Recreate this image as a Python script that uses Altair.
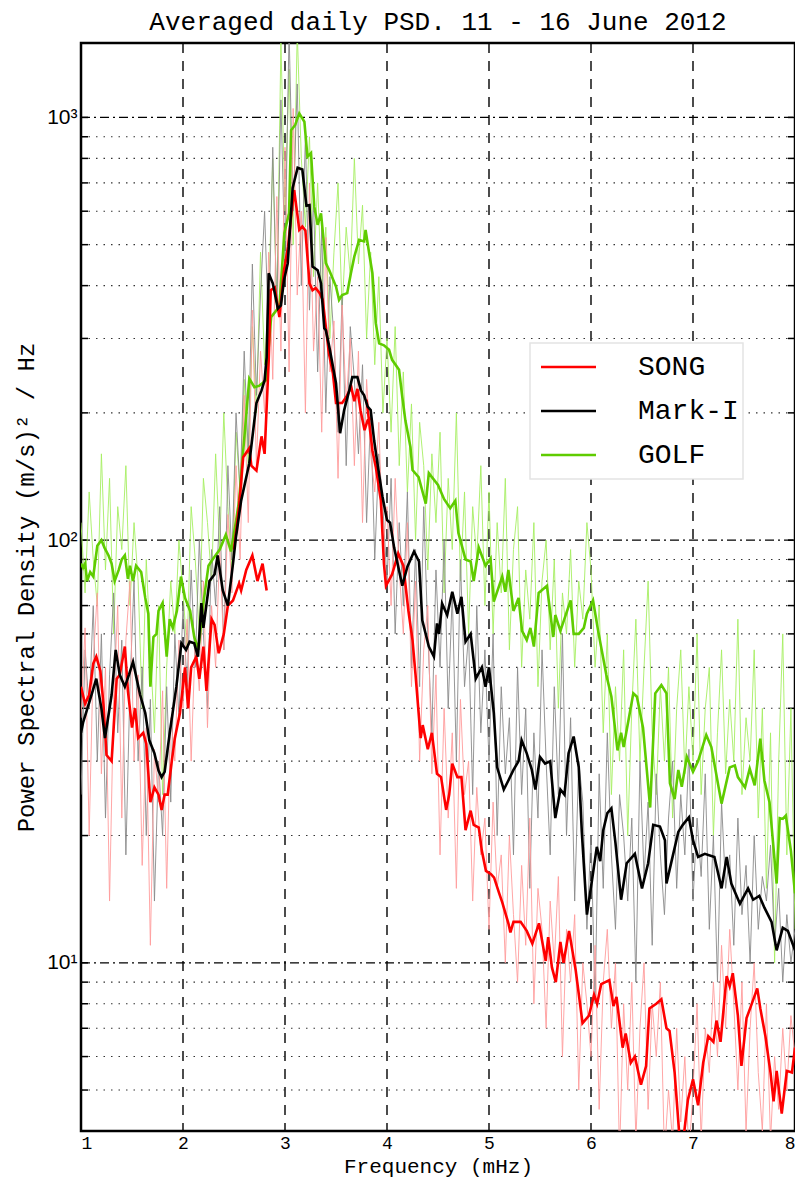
import altair as alt
import pandas as pd

TITLE = "Averaged daily PSD. 11 - 16 June 2012"
X_TITLE = "Frequency (mHz)"
Y_TITLE = "Power Spectral Density  (m/s)\u00b2 / Hz"
SERIES = ["SONG", "Mark-I", "GOLF"]
SMOOTH_COLORS = ["#ff0000", "#000000", "#5fcc00"]
RAW_COLORS = ["#ff9c9c", "#8a8a8a", "#a6ee62"]

X_TICKS = [1, 2, 3, 4, 5, 6, 7, 8]
X_GRID = [2, 3, 4, 5, 6, 7]
Y_MAJOR = [10, 100, 1000]
Y_MINOR = [5, 6, 7, 8, 9, 20, 30, 40, 50, 60, 70, 80, 90,
           200, 300, 400, 500, 600, 700, 800, 900]

# raw spectra, 0.04 mHz spacing from 1.00 to 8.00 mHz
RAW_STEP = 0.04
song_raw = (
    [38, 62, 20, 52, 75, 28, 50, 14, 42, 70, 22, 58, 80, 30, 48, 17, 36, 11, 32, 24, 44, 15, 38, 30, 58]
    + [40, 65, 30, 58, 44, 80, 36, 70, 50, 95, 55, 115, 75, 150, 90, 220, 110, 350, 150, 280, 200, 480, 240, 650, 280]
    + [850, 250, 1050, 380, 600, 200, 700, 280, 420, 180, 520, 250, 330, 140, 360, 210, 300, 150, 280, 110, 240, 160, 130, 190, 95]
    + [120, 70, 140, 85, 60, 110, 45, 80, 30, 55, 70, 28, 48, 18, 40, 22, 35, 15, 42, 25, 30, 14, 26, 18, 22]
    + [12, 24, 15, 18, 10, 20, 13, 9, 17, 11, 22, 8, 15, 12, 7, 14, 10, 16, 6, 12, 9, 13, 5, 10, 8]
    + [6, 11, 4.5, 9, 12, 7, 10, 3.5, 8, 5, 9, 3.8, 7, 10, 4.5, 8, 6, 9, 3.5, 5, 3.8, 7, 4.2, 6, 3.5]
    + [5, 8, 3.8, 7, 5.5, 9, 6, 11, 7, 12, 8, 5, 9, 4, 7, 10, 5.5, 4, 8, 3.8, 6, 4.5, 7, 5, 7.5, 6]
)
marki_raw = (
    [25, 55, 40, 70, 30, 60, 22, 48, 75, 35, 58, 18, 45, 80, 30, 50, 20, 42, 14, 30, 20, 45, 24, 60, 38]
    + [70, 45, 85, 50, 100, 60, 40, 95, 70, 120, 55, 150, 90, 200, 130, 280, 160, 450, 220, 380, 600, 300, 850, 350, 1100]
    + [450, 1600, 600, 1200, 400, 900, 350, 650, 250, 550, 200, 420, 300, 180, 380, 150, 320, 240, 160, 260, 110, 200, 90, 160, 120]
    + [80, 140, 60, 110, 70, 130, 50, 95, 45, 120, 60, 35, 85, 50, 100, 40, 75, 30, 90, 45, 60, 25, 70, 35, 55]
    + [30, 60, 20, 45, 28, 38, 18, 50, 25, 40, 15, 35, 22, 55, 30, 18, 45, 25, 60, 20, 38, 14, 30, 24, 12]
    + [20, 8, 28, 15, 35, 18, 12, 25, 20, 14, 22, 9, 30, 16, 24, 11, 28, 18, 13, 22, 30, 15, 25, 18, 32]
    + [14, 22, 16, 28, 12, 20, 9, 24, 15, 18, 11, 22, 13, 17, 10, 20, 12, 16, 14, 19, 11, 15, 9, 13, 10, 12]
)
golf_raw = (
    [110, 75, 130, 90, 70, 160, 85, 140, 60, 120, 95, 150, 70, 110, 80, 40, 90, 55, 35, 70, 25, 50, 80, 60, 100]
    + [75, 55, 120, 90, 60, 140, 110, 80, 160, 95, 200, 120, 85, 180, 130, 240, 150, 320, 200, 480, 260, 380, 800, 350, 1500]
    + [600, 1300, 500, 1600, 800, 550, 900, 420, 700, 380, 550, 300, 480, 700, 350, 550, 420, 800, 450, 620, 300, 480, 260, 420, 200]
    + [300, 180, 320, 150, 250, 130, 210, 100, 190, 150, 85, 160, 110, 180, 75, 140, 95, 200, 80, 130, 60, 120, 90, 150, 70]
    + [130, 60, 110, 75, 140, 55, 95, 120, 50, 85, 65, 110, 45, 80, 100, 55, 90, 40, 75, 60, 95, 50, 80, 65, 110]
    + [85, 50, 70, 35, 60, 25, 45, 30, 55, 20, 40, 65, 30, 50, 80, 35, 25, 45, 30, 50, 22, 40, 55, 28, 45]
    + [30, 60, 25, 40, 50, 20, 35, 55, 28, 42, 30, 65, 25, 38, 30, 55, 22, 40, 15, 35, 10, 30, 60, 18, 40, 12]
)

# smoothed spectra: (frequency mHz, PSD)
song_smooth_1 = [(1.00, 45), (1.04, 41), (1.08, 43), (1.12, 51), (1.15, 53), (1.19, 49), (1.22, 41),
                 (1.25, 31), (1.30, 30), (1.35, 47), (1.38, 48), (1.43, 56), (1.46, 44), (1.50, 36),
                 (1.53, 40), (1.56, 34), (1.61, 35), (1.64, 33), (1.68, 24), (1.72, 26), (1.76, 25),
                 (1.79, 23), (1.82, 25), (1.85, 25), (1.89, 30), (1.92, 34), (1.97, 39), (2.02, 50),
                 (2.05, 40), (2.08, 50), (2.13, 53), (2.16, 47), (2.20, 56), (2.23, 44), (2.28, 65),
                 (2.31, 63), (2.35, 54), (2.40, 60), (2.44, 70), (2.49, 72), (2.55, 79), (2.57, 76),
                 (2.62, 85), (2.68, 92), (2.73, 80), (2.78, 88), (2.82, 76)]
song_smooth_2 = [(2.50, 95), (2.55, 120), (2.59, 157), (2.65, 165), (2.67, 150), (2.72, 146), (2.77, 176),
                 (2.80, 160), (2.84, 265), (2.86, 390), (2.90, 396), (2.945, 337), (2.99, 435), (3.03, 494),
                 (3.06, 583), (3.09, 673), (3.12, 593), (3.14, 542), (3.17, 552), (3.20, 540), (3.24, 405),
                 (3.27, 390), (3.30, 395), (3.34, 384), (3.37, 370), (3.40, 320), (3.43, 277), (3.47, 248),
                 (3.50, 211), (3.56, 211), (3.60, 218), (3.65, 230), (3.68, 213), (3.71, 228), (3.74, 203),
                 (3.78, 182), (3.81, 192), (3.84, 194)]
song_smooth_3 = [(3.80, 215), (3.857, 163), (3.89, 149), (3.94, 124), (3.97, 88), (3.99, 78), (4.05, 83),
                 (4.11, 93), (4.16, 87), (4.21, 68), (4.25, 58), (4.28, 48), (4.31, 39), (4.33, 34),
                 (4.35, 36.5), (4.40, 32), (4.44, 35), (4.49, 28), (4.53, 27.5), (4.58, 23), (4.61, 25),
                 (4.64, 29.6), (4.69, 27.5), (4.73, 27.5), (4.77, 20.6), (4.82, 22.9), (4.85, 21.2),
                 (4.90, 20.9), (4.93, 18.4), (4.97, 16.5), (5.02, 16.2), (5.05, 15.9), (5.10, 14.6),
                 (5.13, 13.9), (5.19, 12.4), (5.21, 11.8), (5.24, 12.5), (5.31, 12.5), (5.37, 11.9),
                 (5.425, 11.1), (5.49, 12.4), (5.556, 10.1), (5.58, 11.5), (5.617, 9.75), (5.655, 9.0),
                 (5.70, 11.2), (5.73, 10), (5.785, 11.9), (5.85, 9.6), (5.917, 7.2), (5.98, 7.5),
                 (6.03, 8.4), (6.06, 8.0), (6.10, 8.9), (6.18, 9.1), (6.22, 7.9), (6.25, 8.3), (6.31, 6.3),
                 (6.34, 6.8), (6.39, 5.8), (6.43, 6.0), (6.49, 5.15), (6.54, 5.7), (6.573, 7.8), (6.64, 8.0),
                 (6.69, 8.2), (6.74, 7.0), (6.77, 6.9), (6.82, 5.5), (6.87, 3.8), (6.91, 3.9), (6.95, 4.74),
                 (7.00, 5.3), (7.05, 4.6), (7.10, 5.8), (7.15, 6.7), (7.20, 6.5), (7.23, 7.3), (7.27, 6.5),
                 (7.33, 9.3), (7.36, 8.8), (7.39, 9.45), (7.44, 7.5), (7.475, 5.7), (7.525, 7.4), (7.56, 7.8),
                 (7.63, 8.7), (7.66, 7.8), (7.71, 6.7), (7.76, 5.5), (7.79, 4.7), (7.82, 5.55), (7.87, 4.4),
                 (7.92, 5.55), (7.97, 5.5), (8.00, 6.3)]
marki_smooth = [(1.00, 35), (1.02, 37), (1.09, 42), (1.15, 47), (1.20, 40), (1.235, 34), (1.30, 43),
                (1.34, 55), (1.38, 48), (1.43, 45), (1.47, 48), (1.51, 51.5), (1.58, 43), (1.63, 39),
                (1.67, 33.6), (1.72, 31.3), (1.76, 28.5), (1.79, 27.5), (1.82, 28.3), (1.87, 35), (1.935, 45),
                (1.984, 57), (2.03, 55), (2.065, 57.5), (2.11, 57), (2.147, 53), (2.18, 71), (2.20, 62),
                (2.26, 80), (2.31, 83), (2.34, 92), (2.39, 76), (2.44, 70), (2.49, 88), (2.52, 102),
                (2.57, 124), (2.65, 152), (2.72, 211), (2.77, 226), (2.80, 239), (2.82, 271), (2.84, 428),
                (2.88, 405), (2.93, 353), (2.96, 359), (2.99, 412), (3.027, 452), (3.075, 681), (3.124, 760),
                (3.17, 753), (3.21, 618), (3.24, 620), (3.27, 444), (3.32, 435), (3.353, 405), (3.385, 317),
                (3.40, 314), (3.434, 287), (3.50, 235), (3.54, 179), (3.58, 203), (3.63, 226), (3.66, 243),
                (3.71, 243), (3.744, 226), (3.776, 220), (3.81, 207), (3.84, 203), (3.874, 172), (3.906, 152),
                (3.955, 127), (4.00, 111.5), (4.03, 110), (4.07, 96), (4.15, 78), (4.20, 86.5), (4.265, 94),
                (4.314, 89), (4.346, 64.6), (4.41, 56), (4.46, 53), (4.49, 63.5), (4.51, 60), (4.54, 70.8),
                (4.59, 66.5), (4.64, 75.5), (4.69, 67), (4.73, 73.4), (4.77, 57.5), (4.82, 60), (4.87, 47),
                (4.93, 50), (4.966, 45), (5.00, 50), (5.047, 39), (5.08, 29), (5.145, 25.7), (5.19, 27),
                (5.24, 28.6), (5.29, 30), (5.32, 33.6), (5.37, 31.3), (5.42, 28.6), (5.455, 25.7),
                (5.50, 30.7), (5.55, 29.6), (5.60, 30), (5.65, 22), (5.70, 25.7), (5.74, 25), (5.78, 31.3),
                (5.83, 34.3), (5.88, 29), (5.91, 20.4), (5.96, 13), (6.01, 15.7), (6.057, 18.8), (6.09, 17.4),
                (6.12, 20.6), (6.16, 22.6), (6.20, 23.2), (6.24, 19.2), (6.295, 14.1), (6.35, 17.2),
                (6.43, 18.1), (6.50, 15), (6.56, 17.2), (6.61, 21.2), (6.676, 21), (6.725, 19.5), (6.74, 15.4),
                (6.79, 17.4), (6.856, 20.4), (6.90, 21.2), (6.96, 22.1), (7.00, 19.5), (7.05, 17.8),
                (7.116, 18.1), (7.21, 17.8), (7.28, 15), (7.33, 17.8), (7.376, 15.4), (7.46, 13.8),
                (7.54, 15), (7.59, 14.1), (7.65, 14.4), (7.70, 13.5), (7.77, 12.5), (7.82, 10.7), (7.88, 12.1),
                (7.93, 11.9), (8.00, 10.7)]
golf_smooth = [(1.00, 88), (1.02, 86), (1.04, 88), (1.06, 80), (1.09, 84), (1.12, 82), (1.16, 97), (1.20, 100),
               (1.23, 96), (1.27, 92), (1.30, 88), (1.33, 80), (1.37, 85), (1.40, 90), (1.43, 92), (1.46, 81),
               (1.48, 87), (1.51, 80), (1.54, 87), (1.59, 84), (1.63, 73), (1.66, 67), (1.68, 45), (1.71, 59),
               (1.74, 60), (1.76, 68), (1.80, 71), (1.84, 53), (1.87, 65), (1.90, 62), (1.94, 68), (1.98, 82),
               (2.02, 73), (2.07, 68), (2.11, 59), (2.15, 55), (2.20, 71), (2.25, 87), (2.29, 90), (2.36, 95),
               (2.42, 103), (2.47, 94), (2.52, 111), (2.55, 124), (2.58, 152), (2.65, 241), (2.70, 230),
               (2.75, 232), (2.815, 239), (2.864, 337), (2.945, 357), (2.994, 533), (3.04, 594), (3.06, 933),
               (3.10, 960), (3.14, 1022), (3.19, 977), (3.22, 808), (3.255, 824), (3.287, 615), (3.32, 557),
               (3.353, 593), (3.40, 452), (3.434, 435), (3.50, 398), (3.53, 370), (3.56, 380), (3.61, 384),
               (3.646, 428), (3.68, 469), (3.727, 513), (3.776, 509), (3.79, 542), (3.825, 477), (3.857, 428),
               (3.89, 326), (3.923, 292), (3.97, 289), (4.02, 282), (4.05, 267), (4.118, 253), (4.15, 218),
               (4.18, 192), (4.23, 166), (4.25, 146.5), (4.31, 141), (4.38, 122), (4.41, 144), (4.50, 135),
               (4.56, 125), (4.62, 119), (4.67, 124), (4.70, 104), (4.77, 90), (4.82, 89), (4.85, 80),
               (4.90, 96), (4.966, 87), (5.015, 90.5), (5.047, 71.5), (5.13, 82), (5.16, 75.5), (5.19, 85),
               (5.24, 68), (5.29, 73), (5.324, 61), (5.37, 58), (5.406, 62), (5.44, 56), (5.487, 75),
               (5.568, 78), (5.63, 59), (5.65, 66.5), (5.70, 61), (5.80, 72), (5.83, 60), (5.88, 60),
               (5.93, 62), (5.96, 67), (6.02, 72), (6.07, 61), (6.15, 48), (6.20, 42.6), (6.26, 31.8),
               (6.295, 35), (6.32, 32.4), (6.415, 43.4), (6.45, 42.6), (6.51, 36), (6.58, 23.3), (6.63, 43.4),
               (6.69, 45.4), (6.74, 43.4), (6.774, 26.6), (6.82, 24.4), (6.856, 28.6), (6.89, 26.1),
               (6.94, 30.7), (7.00, 28.3), (7.05, 30), (7.13, 34.6), (7.18, 32.4), (7.28, 23.8), (7.36, 29),
               (7.41, 29.3), (7.44, 27.5), (7.51, 26), (7.556, 28.8), (7.605, 26.3), (7.66, 33.9), (7.70, 27),
               (7.75, 24), (7.82, 15.4), (7.85, 22), (7.88, 21.9), (7.91, 22.3), (7.96, 18.4), (8.00, 14.6)]

W, H = 714, 1088
MONO = "Liberation Mono"
SANS = "Liberation Sans"

xs = alt.Scale(domain=[1, 8], nice=False, zero=False)
ys = alt.Scale(type="log", domain=[4, 1500], nice=False)

XA = alt.Axis(values=X_TICKS, format="d", grid=False, ticks=False, domain=False,
              labelFont=MONO, labelFontSize=18, labelColor="black", labelPadding=3,
              title=X_TITLE, titleFont=MONO, titleFontSize=21,
              titleFontWeight="normal", titleColor="black", titlePadding=3)
YA = alt.Axis(values=Y_MAJOR, grid=False, ticks=False, domain=False,
              labelExpr="datum.value == 10 ? '10\u00b9' : datum.value == 100 ? '10\u00b2' : '10\u00b3'",
              labelFont=SANS, labelFontSize=21, labelColor="black", labelPadding=4,
              title=Y_TITLE, titleFont=MONO, titleFontSize=24,
              titleFontWeight="normal", titleColor="black", titlePadding=8)


def raw_df(vals):
    return pd.DataFrame({"f": [round(1 + RAW_STEP * i, 3) for i in range(len(vals))], "v": vals})


def pairs_df(pairs):
    return pd.DataFrame({"f": [p[0] for p in pairs], "v": [p[1] for p in pairs]})


def X():
    return alt.X("f:Q", scale=xs, axis=XA)


def Y():
    return alt.Y("v:Q", scale=ys, axis=YA)


one = pd.DataFrame({"k": [0]})

x_grid = alt.Chart(pd.DataFrame({"f": X_GRID})).mark_rule(color="black", strokeWidth=1.4, strokeDash=[10, 8]).encode(
    x=X(), y=alt.value(0), y2=alt.value(H))
y_major = alt.Chart(pd.DataFrame({"v": Y_MAJOR})).mark_rule(color="black", strokeWidth=1.2, strokeDash=[9, 4, 2, 4]).encode(
    y=Y(), x=alt.value(0), x2=alt.value(W))
y_minor = alt.Chart(pd.DataFrame({"v": Y_MINOR})).mark_rule(color="#333333", strokeWidth=1.1, strokeDash=[1.5, 6]).encode(
    y=Y(), x=alt.value(0), x2=alt.value(W))
ticks_df = pd.DataFrame({"v": Y_MINOR + Y_MAJOR})
ytick_l = alt.Chart(ticks_df).mark_rule(color="black", strokeWidth=1.5).encode(y=Y(), x=alt.value(0), x2=alt.value(7))
ytick_r = alt.Chart(ticks_df).mark_rule(color="black", strokeWidth=1.5).encode(y=Y(), x=alt.value(W - 7), x2=alt.value(W))

layers = [x_grid, y_minor, y_major, ytick_l, ytick_r]

raw_sets = [(golf_raw, RAW_COLORS[2]), (marki_raw, RAW_COLORS[1]), (song_raw, RAW_COLORS[0])]
for vals, col in raw_sets:
    layers.append(alt.Chart(raw_df(vals)).mark_line(clip=True, color=col, strokeWidth=0.9).encode(x=X(), y=Y()))

smooth_sets = [(golf_smooth, SMOOTH_COLORS[2]), (song_smooth_1, SMOOTH_COLORS[0]),
               (song_smooth_2, SMOOTH_COLORS[0]), (song_smooth_3, SMOOTH_COLORS[0]),
               (marki_smooth, SMOOTH_COLORS[1])]
for pairs, col in smooth_sets:
    layers.append(alt.Chart(pairs_df(pairs)).mark_line(clip=True, color=col, strokeWidth=2.6).encode(x=X(), y=Y()))

# legend box
LX, LY = 449, 300
layers.append(alt.Chart(one).mark_rect(fill="white", stroke="#e4e4e4", strokeWidth=1.5).encode(
    x=alt.value(LX), x2=alt.value(LX + 213), y=alt.value(LY), y2=alt.value(LY + 136)))
for i, (name, col) in enumerate(zip(SERIES, SMOOTH_COLORS)):
    yy = LY + 24 + i * 44
    layers.append(alt.Chart(one).mark_rule(color=col, strokeWidth=2.6).encode(
        x=alt.value(LX + 11), x2=alt.value(LX + 66), y=alt.value(yy)))
    layers.append(alt.Chart(one).mark_text(align="left", baseline="middle", font=MONO, fontSize=28, color="black").encode(
        x=alt.value(LX + 108), y=alt.value(yy), text=alt.value(name)))

# chart title as text above the plot area
layers.append(alt.Chart(one).mark_text(align="center", baseline="middle", font=MONO, fontSize=26, color="black").encode(
    x=alt.value(W / 2), y=alt.value(-21), text=alt.value(TITLE)))

chart = alt.layer(*layers).properties(
    width=W, height=H,
    background="white",
    autosize=alt.AutoSizeParams(type="none"),
    padding={"left": 73, "top": 35, "right": 0, "bottom": 52},
).configure_view(stroke="black", strokeWidth=2.5)

chart.save("out.html", embed_options={"renderer": "svg", "actions": False})
